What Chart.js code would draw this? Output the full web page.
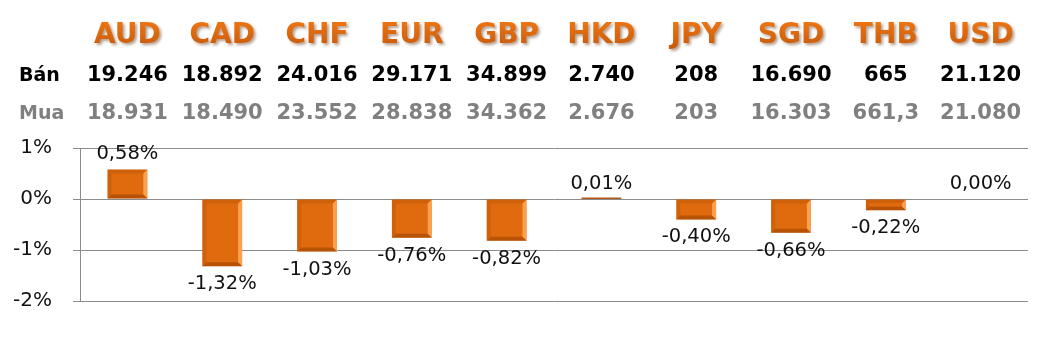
<!DOCTYPE html>
<html>
<head>
<meta charset="utf-8">
<script src="https://cdn.jsdelivr.net/npm/chart.js@4/dist/chart.umd.min.js"></script>
<style>
  html, body { margin: 0; padding: 0; background: #fff; }
  #wrap { width: 1046px; height: 342px; position: relative; }
</style>
</head>
<body>
<div id="wrap"><canvas id="rates"></canvas></div>
<script>
// data
const currencies = ['AUD', 'CAD', 'CHF', 'EUR', 'GBP', 'HKD', 'JPY', 'SGD', 'THB', 'USD'];
const sellRates = ['19.246', '18.892', '24.016', '29.171', '34.899', '2.740', '208', '16.690', '665', '21.120'];
const buyRates = ['18.931', '18.490', '23.552', '28.838', '34.362', '2.676', '203', '16.303', '661,3', '21.080'];
const changes = [0.58, -1.32, -1.03, -0.76, -0.82, 0.01, -0.40, -0.66, -0.22, 0.00];
const yTicks = [1, 0, -1, -2];
const rowLabels = ['Bán', 'Mua'];

const canvas = document.getElementById('rates');

function formatPct(v) {
  return v.toFixed(2).replace('.', ',') + '%';
}

function barFill(context) {
  const area = context.chart.chartArea;
  const el = context.element;
  if (!area || !el || el.x === undefined) return '#E06A0E';
  const ctx = context.chart.ctx;
  const half = el.width / 2;
  const top = Math.min(el.y, el.base);
  const g = ctx.createLinearGradient(el.x - half, top, el.x + half, top + 30);
  g.addColorStop(0, '#B4520A');
  g.addColorStop(0.4, '#DC670E');
  g.addColorStop(0.8, '#EC7412');
  g.addColorStop(1, '#F07A16');
  return g;
}

// header: currency codes + sell/buy rows
const headerPlugin = {
  id: 'header',
  afterDraw(chart) {
    const ctx = chart.ctx;
    const x = chart.scales.x;
    ctx.save();
    ctx.textAlign = 'center';
    ctx.textBaseline = 'middle';

    ctx.font = 'bold 28px "DejaVu Sans"';
    ctx.shadowColor = 'rgba(90,40,0,0.45)';
    ctx.shadowOffsetX = 2;
    ctx.shadowOffsetY = 2;
    ctx.shadowBlur = 3;
    currencies.forEach((c, i) => {
      const cx = x.getPixelForValue(i);
      const g = ctx.createLinearGradient(0, 22, 0, 48);
      g.addColorStop(0, '#EC7412');
      g.addColorStop(1, '#C85A0C');
      ctx.fillStyle = g;
      ctx.fillText(c, cx, 36);
    });
    ctx.shadowColor = 'transparent';

    ctx.font = 'bold 21px "DejaVu Sans"';
    ctx.fillStyle = '#000';
    sellRates.forEach((v, i) => ctx.fillText(v, x.getPixelForValue(i), 76));
    ctx.fillStyle = '#808080';
    buyRates.forEach((v, i) => ctx.fillText(v, x.getPixelForValue(i), 114));

    ctx.textAlign = 'left';
    ctx.font = 'bold 19px "DejaVu Sans"';
    ctx.fillStyle = '#000';
    ctx.fillText(rowLabels[0], 19, 76);
    ctx.fillStyle = '#808080';
    ctx.fillText(rowLabels[1], 19, 114);
    ctx.restore();
  }
};

// bevel edges and value labels on bars
const barDecor = {
  id: 'barDecor',
  afterDatasetsDraw(chart) {
    const ctx = chart.ctx;
    const meta = chart.getDatasetMeta(0);
    ctx.save();
    meta.data.forEach((bar, i) => {
      const half = bar.width / 2;
      const left = bar.x - half, right = bar.x + half;
      const top = Math.min(bar.y, bar.base), bottom = Math.max(bar.y, bar.base);
      const h = bottom - top;
      if (h > 6) {
        const b = Math.min(4, h / 3);
        // right highlight
        ctx.fillStyle = 'rgba(255,175,95,0.8)';
        ctx.beginPath();
        ctx.moveTo(right, top); ctx.lineTo(right, bottom);
        ctx.lineTo(right - b, bottom - b); ctx.lineTo(right - b, top + b);
        ctx.closePath(); ctx.fill();
        // bottom shade
        ctx.fillStyle = 'rgba(130,55,0,0.45)';
        ctx.beginPath();
        ctx.moveTo(left, bottom); ctx.lineTo(right, bottom);
        ctx.lineTo(right - b, bottom - b); ctx.lineTo(left + b, bottom - b);
        ctx.closePath(); ctx.fill();
        // top / left shade
        ctx.fillStyle = 'rgba(140,60,0,0.18)';
        ctx.beginPath();
        ctx.moveTo(left, top); ctx.lineTo(right, top);
        ctx.lineTo(right - b, top + b); ctx.lineTo(left + b, top + b);
        ctx.lineTo(left + b, bottom - b); ctx.lineTo(left, bottom);
        ctx.closePath(); ctx.fill();
      } else if (h > 0) {
        ctx.fillStyle = '#B55A14';
        ctx.fillRect(left, bar.base - 1, bar.width, 1.5);
      }

      const v = changes[i];
      ctx.font = '19.5px "DejaVu Sans"';
      ctx.fillStyle = '#111';
      ctx.textAlign = 'center';
      ctx.textBaseline = 'middle';
      const ly = v >= 0 ? top - 15 : bottom + 18;
      ctx.fillText(formatPct(v), bar.x, ly);
    });
    ctx.restore();
  }
};

new Chart(canvas, {
  type: 'bar',
  data: {
    labels: currencies,
    datasets: [{
      data: changes,
      backgroundColor: barFill,
      borderWidth: 0,
      categoryPercentage: 1,
      barPercentage: 0.42
    }]
  },
  options: {
    responsive: true,
    maintainAspectRatio: false,
    animation: false,
    layout: { padding: { top: 148, bottom: 41, left: 0, right: 18 } },
    plugins: { legend: { display: false }, tooltip: { enabled: false } },
    scales: {
      x: {
        display: false
      },
      y: {
        min: -2,
        max: 1,
        afterFit(scale) { scale.width = 80; },
        afterBuildTicks(scale) { scale.ticks = yTicks.map(v => ({ value: v })); },
        border: { display: true, color: '#8c8c8c', width: 1 },
        grid: { color: '#8c8c8c', lineWidth: 1, tickLength: 7, drawTicks: true },
        ticks: {
          padding: 21,
          color: '#111',
          font: { family: 'DejaVu Sans', size: 20 },
          callback: v => v + '%'
        }
      }
    }
  },
  plugins: [headerPlugin, barDecor]
});
</script>
</body>
</html>
